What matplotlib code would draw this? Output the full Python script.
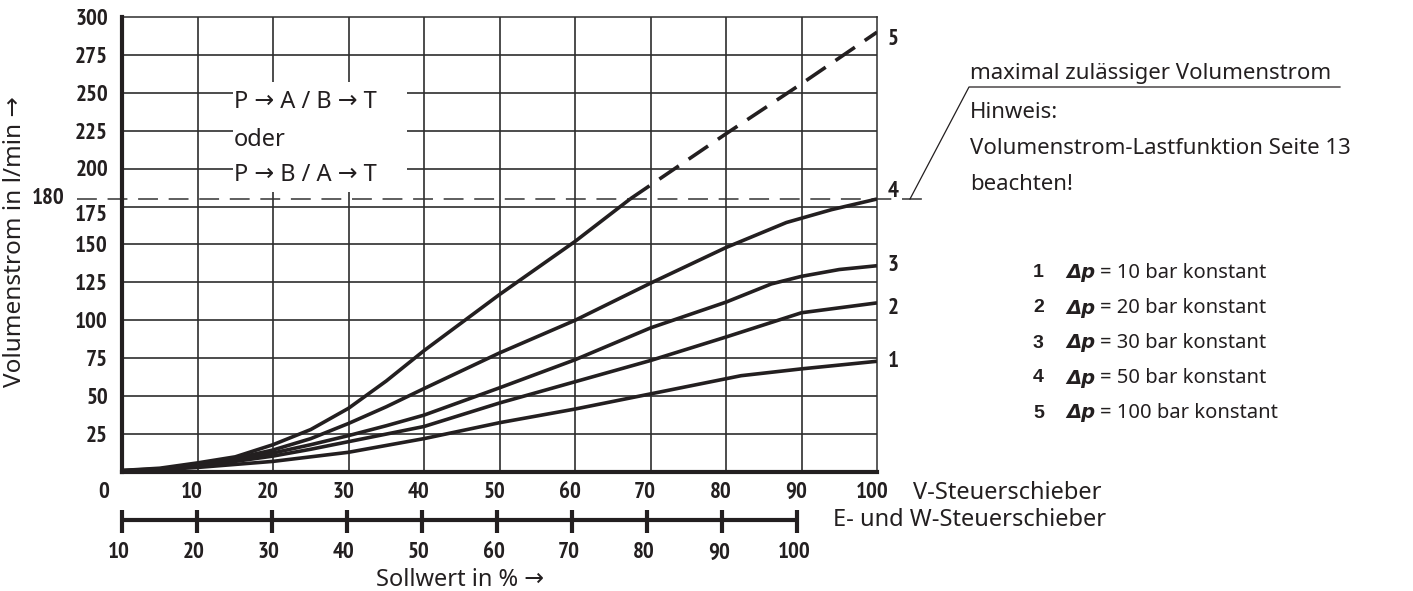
import matplotlib
matplotlib.use("Agg")
import matplotlib.pyplot as plt
from matplotlib import font_manager
from matplotlib.font_manager import FontProperties
from matplotlib.textpath import TextToPath
from matplotlib.lines import Line2D
from matplotlib.patches import Rectangle
import matplotlib.transforms as mtransforms

# ---------------------------------------------------------------- data
# Volumenstrom (l/min) over Sollwert (%) for V-Steuerschieber
x_1 = [0, 5, 10, 15, 20, 25, 30, 35, 40, 50, 60, 70, 82, 90, 100]
q_1 = [0.5, 1.5, 3, 5, 7, 10, 13, 17.5, 22, 32.5, 41.5, 51.5, 63.5, 68, 73]

x_2 = [0, 5, 10, 15, 20, 25, 30, 35, 40, 50, 60, 70, 80, 90, 100]
q_2 = [0.5, 1.8, 4, 7, 10.5, 15, 20, 25, 30, 45.5, 59.5, 73.5, 89, 105, 111.5]

x_3 = [0, 5, 10, 15, 20, 25, 30, 35, 40, 50, 60, 70, 80, 86, 90, 95, 100]
q_3 = [0.5, 2, 4.5, 8, 12.5, 18, 24, 30.5, 37.5, 55.5, 74, 95, 112, 124, 129, 133.5, 136]

x_4 = [0, 5, 10, 15, 20, 25, 30, 35, 40, 50, 60, 70, 80, 88, 94, 100]
q_4 = [1, 2, 5, 9, 14.5, 22, 32, 43, 55, 78.5, 100, 124.5, 148, 164.5, 173, 180]

x_5 = [0, 5, 10, 15, 20, 25, 30, 35, 40, 50, 60, 67.3]
q_5 = [1, 2.5, 6, 10, 18, 28, 42, 60, 80, 117, 152, 180]
x_5_over = [67.3, 80, 90, 100]
q_5_over = [180, 223, 256, 290]

curve_ids = ["1", "2", "3", "4", "5"]
delta_p = [10, 20, 30, 50, 100]

q_max = 180
v_ticks = list(range(0, 101, 10))
e_ticks = list(range(10, 101, 10))
q_ticks = list(range(25, 301, 25))

# ---------------------------------------------------------------- fonts
SANS = ["Noto Sans", "DejaVu Sans"]
plt.rcParams["font.family"] = SANS


def _weight(f):
    w = f.weight
    if isinstance(w, str):
        w = font_manager.weight_dict.get(w, 400)
    return w


def _condensed_bold():
    """Path of an installed condensed/narrow bold sans face, if any."""
    found = []
    for f in font_manager.fontManager.ttflist:
        name = f.name.lower()
        st = str(f.stretch).lower()
        cond = ("narrow" in name or "condensed" in name or "condensed" in st
                or (isinstance(f.stretch, (int, float)) and f.stretch < 500))
        if not cond or _weight(f) < 600 or f.style != "normal":
            continue
        if "mono" in name or ("serif" in name and "sans" not in name):
            continue
        if "narrow" in name:
            rank = 0
        elif "roboto" in name:
            rank = 1
        elif any(k in name for k in ("noto", "open", "lato", "inter", "liberation")):
            rank = 2
        else:
            rank = 3
        found.append((rank, abs(_weight(f) - 700), f.fname))
    found.sort()
    return found[0][2] if found else None


_cond = _condensed_bold()
if _cond:
    NUM = FontProperties(fname=_cond)
else:
    NUM = FontProperties(family="Liberation Sans", weight="bold")

# size the numeric labels so that "300" is about 33 px wide and 17.5 px tall
_probe = NUM.copy()
_probe.set_size(10)
_w, _h, _d = TextToPath().get_text_width_height_descent("300", _probe, ismath=False)
NUM_SIZE = min(10 * (33 * 0.72) / _w, 10 * (17.5 * 0.72) / max(_h - _d, 1e-3), 17.5)
NUM.set_size(NUM_SIZE)

W, H, DPI = 1413, 591, 100
INK = "#231f20"
GRID = "#2e2e2e"

fig = plt.figure(figsize=(W / DPI, H / DPI), dpi=DPI)
L, R, T, B = 122, 877, 17, 472
ax = fig.add_axes([L / W, 1 - B / H, (R - L) / W, (B - T) / H])
ax.set_xlim(0, 100)
ax.set_ylim(0, 300)

# grid
ax.set_xticks(v_ticks[1:-1])
ax.set_yticks(q_ticks[:-1])
ax.set_axisbelow(True)
ax.grid(True, color=GRID, linewidth=1.2)
ax.tick_params(length=0, labelbottom=False, labelleft=False)

for side in ("top", "right"):
    ax.spines[side].set_linewidth(1.1)
    ax.spines[side].set_color(GRID)
for side in ("left", "bottom"):
    ax.spines[side].set_linewidth(3.0)
    ax.spines[side].set_color(INK)
    ax.spines[side].set_zorder(5)

# white field for the flow-path note
ax.add_patch(Rectangle((14.7, 184.6), 23.0, 72.4, facecolor="white",
                       edgecolor="none", zorder=1))

# curves
lw = 2.6
for xs, qs in ((x_1, q_1), (x_2, q_2), (x_3, q_3), (x_4, q_4), (x_5, q_5)):
    ax.plot(xs, qs, color=INK, linewidth=lw, solid_capstyle="butt",
            solid_joinstyle="round", zorder=4)
ax.plot(x_5_over, q_5_over, color=INK, linewidth=lw, dashes=(6.5, 3.3),
        dash_capstyle="butt", zorder=4)

# maximum permissible flow
ax.plot([-6, 106], [q_max, q_max], color="#333333", linewidth=1.1,
        dashes=(13, 7), clip_on=False, zorder=3)

# curve numbers at the right edge
ends = [q_1[-1], q_2[-1], q_3[-1], q_4[-1], q_5_over[-1]]
shifts = [0, -4, 0, 5, -5]
for cid, q, s in zip(curve_ids, ends, shifts):
    ax.text(101.4, q + s, cid, fontproperties=NUM, color=INK,
            ha="left", va="center", clip_on=False)

# y tick labels
ytr = ax.get_yaxis_transform()
off = mtransforms.ScaledTranslation(-14 / DPI, 0, fig.dpi_scale_trans)
for q in q_ticks:
    dy = -1.5 if q != 175 else -6
    ax.text(0, q + dy, str(q), transform=ytr + off, fontproperties=NUM,
            color=INK, ha="right", va="center")
ax.text(0, q_max, str(q_max),
        transform=ytr + mtransforms.ScaledTranslation(-57 / DPI, 0, fig.dpi_scale_trans),
        fontproperties=NUM, color=INK, ha="right", va="center")

# x tick labels (V-Steuerschieber)
xtr = ax.get_xaxis_transform()
for v in v_ticks:
    xpos = v - 0.7 if v else -2.4
    ax.text(xpos, -0.046, str(v), transform=xtr, fontproperties=NUM,
            color=INK, ha="center", va="center")


# second scale (E- und W-Steuerschieber)
def e_to_v(e):
    return (e - 10) * 89.4 / 90


y_bar = (B - 520) / (B - T)
y_t0 = (B - 510) / (B - T)
y_t1 = (B - 533) / (B - T)
ax.plot([e_to_v(e_ticks[0]), e_to_v(e_ticks[-1])], [y_bar, y_bar], transform=xtr,
        color=INK, linewidth=3.0, clip_on=False, solid_capstyle="butt")
for e in e_ticks:
    ax.plot([e_to_v(e)] * 2, [y_t0, y_t1], transform=xtr, color=INK,
            linewidth=3.0, clip_on=False, solid_capstyle="butt")
    ax.text(e_to_v(e) - 0.4, (B - 553) / (B - T), str(e), transform=xtr,
            fontproperties=NUM, color=INK, ha="center", va="center")


def ftext(x, y, s, **kw):
    kw.setdefault("fontsize", 16)
    kw.setdefault("color", INK)
    kw.setdefault("va", "center")
    return fig.text(x / W, 1 - y / H, s, **kw)


ftext(913, 493, "V-Steuerschieber", fontsize=17)
ftext(833, 520, "E- und W-Steuerschieber", fontsize=17)
ftext(460, 580, "Sollwert in % \u2192", ha="center", fontsize=17)
ftext(15, 242, "Volumenstrom in l/min \u2192", rotation=90, ha="center", fontsize=17.5)

# flow-path note
ftext(234, 102, "P \u2192 A / B \u2192 T", fontsize=17)
ftext(234, 140, "oder", fontsize=17)
ftext(234, 175, "P \u2192 B / A \u2192 T", fontsize=17)

# note with leader line
fig.add_artist(Line2D([910 / W, 969 / W, 1340 / W],
                      [1 - 199 / H, 1 - 87 / H, 1 - 87 / H],
                      color=INK, linewidth=0.9))
ftext(970, 74, "maximal zul\u00e4ssiger Volumenstrom")
ftext(970, 112, "Hinweis:")
ftext(970, 149, "Volumenstrom-Lastfunktion Seite 13")
ftext(970, 184, "beachten!")

# legend
for i, (cid, dp) in enumerate(zip(curve_ids, delta_p)):
    y = 273 + 35 * i
    ftext(1033, y, cid, fontweight="bold", fontsize=14,
          family=["Liberation Sans", "DejaVu Sans"])
    ftext(1066, y, "\u0394p", fontweight="bold", fontstyle="italic", fontsize=14,
          family=["DejaVu Sans"])
    ftext(1100, y, f"= {dp} bar konstant", fontsize=14.5)

fig.savefig("out.png", dpi=DPI)
